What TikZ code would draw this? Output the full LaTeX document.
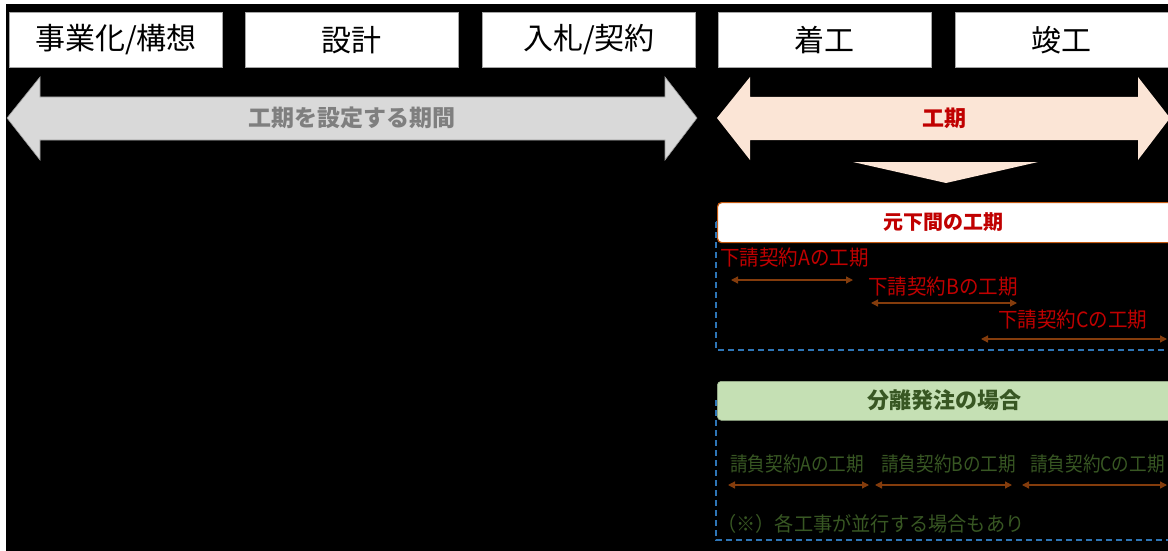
\documentclass[tikz,border=0pt]{standalone}
\usepackage{fontspec}
\setmainfont{Noto Sans CJK JP}
\newfontfamily\condA[FakeStretch=0.93]{Noto Sans CJK JP}
\newfontfamily\condB[FakeStretch=0.88]{Noto Sans CJK JP}
\newfontfamily\condC[FakeStretch=0.96]{Noto Sans CJK JP}
\usetikzlibrary{arrows.meta}
\definecolor{greyfill}{HTML}{D9D9D9}
\definecolor{greytext}{HTML}{7F7F7F}
\definecolor{peach}{HTML}{FBE5D6}
\definecolor{darkred}{HTML}{C00000}
\definecolor{orangeline}{HTML}{C55A11}
\definecolor{brownline}{HTML}{843C0C}
\definecolor{dashblue}{HTML}{2E75B6}
\definecolor{lightgreen}{HTML}{C5E0B4}
\definecolor{darkgreen}{HTML}{385723}
\tikzset{
  phase/.style={draw=gray!70, line width=0.8pt, fill=white, minimum width=213, minimum height=55, inner sep=0, anchor=north west, font=\fontsize{30}{36}\selectfont},
  redlab/.style={inner sep=0, anchor=west, text=darkred, font=\condA\fontsize{21}{25}\selectfont},
  greenlab/.style={inner sep=0, anchor=west, text=darkgreen, font=\condB\fontsize{20}{24}\selectfont},
  notelab/.style={inner sep=0, anchor=west, text=darkgreen, font=\condC\fontsize{20}{24}\selectfont},
  sarrow/.style={draw=brownline, line width=1.3pt, {Triangle[length=7pt,width=7pt]}-{Triangle[length=7pt,width=7pt]}},
  dashbox/.style={draw=dashblue, line width=1.3pt, dash pattern=on 6pt off 4pt},
}
\begin{document}
\begin{tikzpicture}[x=1pt,y=-1pt]
\useasboundingbox (0,0) rectangle (1168,551);
\clip (0,0) rectangle (1168,551);
\fill[white] (0,0) rectangle (1168,551);
\fill[black] (6,4) rectangle (1175,560);
% phase boxes
\node[phase] (p1) at (9,12) {事業化/構想};
\node[phase] (p2) at (245,12) {設計};
\node[phase] (p3) at (482,12) {入札/契約};
\node[phase] (p4) at (718,12) {着工};
\node[phase] (p5) at (955,12) {竣工};
% grey double arrow
\fill[greyfill, draw=gray!80, line width=0.6pt] (7,118) -- (40,77) -- (40,97) -- (665,97) -- (665,77) -- (697,118) -- (665,160) -- (665,140) -- (40,140) -- (40,160) -- cycle;
\node[text=greytext, font=\bfseries\fontsize{23}{27}\selectfont, inner sep=0] (g) at (352,118) {工期を設定する期間};
% peach double arrow
\fill[peach] (717,118) -- (750,77) -- (750,97) -- (1138,97) -- (1138,77) -- (1170,118) -- (1138,160) -- (1138,140) -- (750,140) -- (750,160) -- cycle;
\node[text=darkred, font=\bfseries\fontsize{22}{26}\selectfont, inner sep=0] (k) at (944,118) {工期};
% down triangle
\fill[peach] (853,162) -- (1038,162) -- (946,183) -- cycle;
% sub-contract section
\draw[dashbox] (716,222) rectangle (1180,350);
\node[draw=orangeline, line width=1.2pt, fill=white, rounded corners=4pt, minimum width=460, minimum height=40, inner sep=0, anchor=north west] (mb) at (717,202) {};
\node[text=darkred, font=\bfseries\fontsize{20}{24}\selectfont, inner sep=0] (mbt) at (943,222) {元下間の工期};
\node[redlab] (la) at (720,258) {下請契約Aの工期};
\node[redlab] (lb) at (868,287) {下請契約Bの工期};
\node[redlab] (lc) at (998,320) {下請契約Cの工期};
\coordinate (a1) at (731,280); \coordinate (a2) at (853,280);
\coordinate (b1) at (871,303); \coordinate (b2) at (1017,303);
\coordinate (c1) at (981,339); \coordinate (c2) at (1167,339);
\draw[sarrow] (a1) -- (a2);
\draw[sarrow] (b1) -- (b2);
\draw[sarrow] (c1) -- (c2);
% separate ordering section
\draw[dashbox] (716,400) rectangle (1180,540);
\node[draw=lightgreen!80!black, line width=0.6pt, fill=lightgreen, rounded corners=4pt, minimum width=460, minimum height=39, inner sep=0, anchor=north west] (gb) at (717,381) {};
\node[text=darkgreen, font=\bfseries\fontsize{22}{26}\selectfont, inner sep=0] (gbt) at (944,400) {分離発注の場合};
\node[greenlab] (sa) at (730,464) {請負契約Aの工期};
\node[greenlab] (sb) at (881,464) {請負契約Bの工期};
\node[greenlab] (sc) at (1030,464) {請負契約Cの工期};
\coordinate (d1) at (728,485); \coordinate (d2) at (869,485);
\coordinate (e1) at (875,485); \coordinate (e2) at (1012,485);
\coordinate (f1) at (1022,485); \coordinate (f2) at (1167,485);
\draw[sarrow] (d1) -- (d2);
\draw[sarrow] (e1) -- (e2);
\draw[sarrow] (f1) -- (f2);
\node[notelab] (note) at (717,524) {（※）各工事が並行する場合もあり};
\end{tikzpicture}
\end{document}
